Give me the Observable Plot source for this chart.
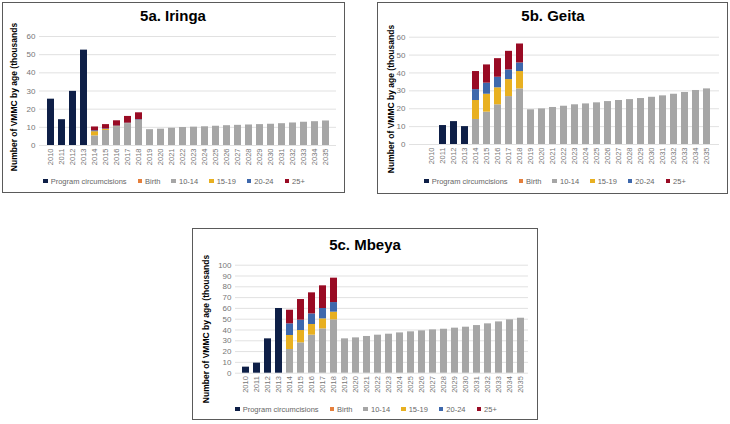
<!DOCTYPE html>
<html>
<head>
<meta charset="utf-8">
<script src="https://cdn.jsdelivr.net/npm/d3@7"></script>
<script src="https://cdn.jsdelivr.net/npm/@observablehq/plot@0.6"></script>
<style>
  html, body { margin: 0; padding: 0; background: #fff; }
  body { width: 730px; height: 424px; position: relative; overflow: hidden; font-family: "Liberation Sans", Arial, sans-serif; }
  .panel { position: absolute; box-sizing: border-box; border: 1px solid #5a5a5a; }
  .abs { position: absolute; }
  .title { font-weight: bold; font-size: 15px; color: #000; text-align: center; white-space: nowrap; }
  .ylab { font-weight: bold; font-size: 8.5px; color: #000; text-align: center; white-space: nowrap; transform: rotate(-90deg); line-height: 10px; }
  .legend { display: flex; align-items: center; font-size: 7.5px; color: #666; white-space: nowrap; line-height: 9px; }
  .legend .item { display: flex; align-items: center; margin-right: 11px; }
  .legend .item:last-child { margin-right: 0; }
  .legend .sw { width: 4.5px; height: 4.5px; margin-right: 3px; }
</style>
</head>
<body>
<script>
// ---------- data ----------
const years = ["2010","2011","2012","2013","2014","2015","2016","2017","2018","2019","2020","2021","2022","2023","2024","2025","2026","2027","2028","2029","2030","2031","2032","2033","2034","2035"];
const seriesNames = ["Program circumcisions", "Birth", "10-14", "15-19", "20-24", "25+"];
const seriesColors = ["#0e1f47", "#e57f3c", "#a6a6a6", "#e8b021", "#3e68ac", "#990b24"];

// Iringa
const iringaProgram = [25.5,14.2,29.8,52.5,0,0,0,0,0,0,0,0,0,0,0,0,0,0,0,0,0,0,0,0,0,0];
const iringaBirth   = [0,0,0,0,0,0,0,0,0,0,0,0,0,0,0,0,0,0,0,0,0,0,0,0,0,0];
const iringa1014    = [0,0,0,0,5.3,8.3,10.1,11.9,13.8,8.7,9.0,9.5,9.9,10.1,10.3,10.6,10.9,11.1,11.3,11.5,11.7,12.0,12.4,12.8,13.1,13.5];
const iringa1519    = [0,0,0,0,2.3,0.5,0.2,0.1,0.1,0,0,0,0,0,0,0,0,0,0,0,0,0,0,0,0,0];
const iringa2024    = [0,0,0,0,0.5,0.3,0.4,0.3,0.3,0,0,0,0,0,0,0,0,0,0,0,0,0,0,0,0,0];
const iringa25      = [0,0,0,0,2.1,2.4,2.9,3.7,3.8,0,0,0,0,0,0,0,0,0,0,0,0,0,0,0,0,0];

// Geita
const geitaProgram = [0,10.6,12.8,10.0,0,0,0,0,0,0,0,0,0,0,0,0,0,0,0,0,0,0,0,0,0,0];
const geitaBirth   = [0,0,0,0,0,0,0,0,0,0,0,0,0,0,0,0,0,0,0,0,0,0,0,0,0,0];
const geita1014    = [0,0,0,0,14.0,18.1,22.2,26.8,31.1,19.4,19.9,20.7,21.4,22.2,22.7,23.3,24.0,24.6,25.1,25.7,26.4,27.2,28.1,29.1,30.2,31.1];
const geita1519    = [0,0,0,0,10.6,10.0,9.5,9.5,9.7,0,0,0,0,0,0,0,0,0,0,0,0,0,0,0,0,0];
const geita2024    = [0,0,0,0,6.1,6.2,5.9,5.4,4.8,0,0,0,0,0,0,0,0,0,0,0,0,0,0,0,0,0];
const geita25      = [0,0,0,0,10.1,10.2,10.4,10.4,10.6,0,0,0,0,0,0,0,0,0,0,0,0,0,0,0,0,0];

// Mbeya
const mbeyaProgram = [5.6,9.3,31.8,59.9,0,0,0,0,0,0,0,0,0,0,0,0,0,0,0,0,0,0,0,0,0,0];
const mbeyaBirth   = [0,0,0,0,0,0,0,0,0,0,0,0,0,0,0,0,0,0,0,0,0,0,0,0,0,0];
const mbeya1014    = [0,0,0,0,21.9,28.1,35.2,41.0,49.4,31.8,32.7,34.0,35.2,36.1,37.3,38.3,39.2,40.1,40.7,41.7,42.6,44.1,45.7,47.5,49.4,50.9];
const mbeya1519    = [0,0,0,0,13.0,11.4,9.9,9.3,7.1,0,0,0,0,0,0,0,0,0,0,0,0,0,0,0,0,0];
const mbeya2024    = [0,0,0,0,10.8,9.6,9.8,9.6,8.9,0,0,0,0,0,0,0,0,0,0,0,0,0,0,0,0,0];
const mbeya25      = [0,0,0,0,12.6,19.1,19.5,21.0,22.6,0,0,0,0,0,0,0,0,0,0,0,0,0,0,0,0,0];

const ticks60 = [0,10,20,30,40,50,60];
const ticks100 = [0,10,20,30,40,50,60,70,80,90,100];

// ---------- layout helpers ----------
function tidy(seriesArrays) {
  const rows = [];
  years.forEach((y, i) => {
    seriesArrays.forEach((arr, s) => {
      rows.push({ year: y, series: seriesNames[s], value: arr[i] });
    });
  });
  return rows;
}

function addDiv(cls, style, html) {
  const d = document.createElement("div");
  d.className = cls;
  Object.assign(d.style, style);
  if (html !== undefined) d.innerHTML = html;
  document.body.appendChild(d);
  return d;
}

function panel(cfg) {
  addDiv("panel", { left: cfg.box[0] + "px", top: cfg.box[1] + "px", width: cfg.box[2] + "px", height: cfg.box[3] + "px" });
  const tw = 200;
  addDiv("abs title", { left: (cfg.titleC[0] - tw / 2) + "px", top: (cfg.titleC[1] - 9) + "px", width: tw + "px", lineHeight: "18px" }, cfg.title);
  const lw = 200;
  addDiv("abs ylab", { left: (cfg.ylabC[0] - lw / 2) + "px", top: (cfg.ylabC[1] - 5) + "px", width: lw + "px" }, "Number of VMMC by age (thousands");

  const data = tidy(cfg.series);
  const chart = Plot.plot({
    width: cfg.svg.width,
    height: cfg.svg.height,
    marginLeft: cfg.svg.ml,
    marginRight: cfg.svg.mr,
    marginTop: cfg.svg.mt,
    marginBottom: cfg.svg.mb,
    style: { fontFamily: "Liberation Sans, Arial, sans-serif", fontSize: "8px", color: "#767676", background: "transparent", overflow: "visible" },
    x: { type: "band", domain: years, range: cfg.svg.xr, padding: 0.33, label: null },
    y: { domain: [0, cfg.ymax], label: null },
    color: { domain: seriesNames, range: seriesColors },
    marks: [
      Plot.ruleY(cfg.ticks, { stroke: "#d9d9d9", strokeWidth: 0.8 }),
      Plot.barY(data, { x: "year", y: "value", fill: "series", order: seriesNames }),
      Plot.axisY({ ticks: cfg.ticks, tickSize: 0, tickPadding: 4, fontSize: 8, label: null }),
      Plot.axisX({ tickSize: 0, tickPadding: 3, tickRotate: -90, fontSize: 7.5, label: null })
    ]
  });
  chart.style.position = "absolute";
  chart.style.left = cfg.svg.left + "px";
  chart.style.top = cfg.svg.top + "px";
  document.body.appendChild(chart);

  const lg = addDiv("abs legend", {});
  seriesNames.forEach((n, i) => {
    const it = document.createElement("div");
    it.className = "item";
    it.innerHTML = `<span class="sw" style="background:${seriesColors[i]}"></span><span>${n}</span>`;
    lg.appendChild(it);
  });
  const w = lg.getBoundingClientRect().width;
  lg.style.left = (cfg.legC[0] - w / 2) + "px";
  lg.style.top = (cfg.legC[1] - 4.5) + "px";
}

panel({
  title: "5a. Iringa",
  box: [2, 2, 343, 191],
  titleC: [173, 16],
  ylabC: [13.5, 97],
  legC: [174, 181],
  ymax: 60, ticks: ticks60,
  series: [iringaProgram, iringaBirth, iringa1014, iringa1519, iringa2024, iringa25],
  svg: { left: 2, top: 26, width: 343, height: 145, ml: 37, mr: 9, mt: 10, mb: 26, xr: [39, 334] }
});

panel({
  title: "5b. Geita",
  box: [377, 2, 351, 192],
  titleC: [553, 16],
  ylabC: [391, 99],
  legC: [555, 181],
  ymax: 60, ticks: ticks60,
  series: [geitaProgram, geitaBirth, geita1014, geita1519, geita2024, geita25],
  svg: { left: 377, top: 26, width: 351, height: 144, ml: 32, mr: 9, mt: 10.7, mb: 26, xr: [42, 342] }
});

panel({
  title: "5c. Mbeya",
  box: [192, 228, 346, 192],
  titleC: [365, 245],
  ylabC: [205.7, 328.5],
  legC: [366, 409],
  ymax: 100, ticks: ticks100,
  series: [mbeyaProgram, mbeyaBirth, mbeya1014, mbeya1519, mbeya2024, mbeya25],
  svg: { left: 192, top: 252, width: 346, height: 146.7, ml: 43, mr: 10, mt: 12.7, mb: 26, xr: [45.7, 335.9] }
});
</script>
</body>
</html>
